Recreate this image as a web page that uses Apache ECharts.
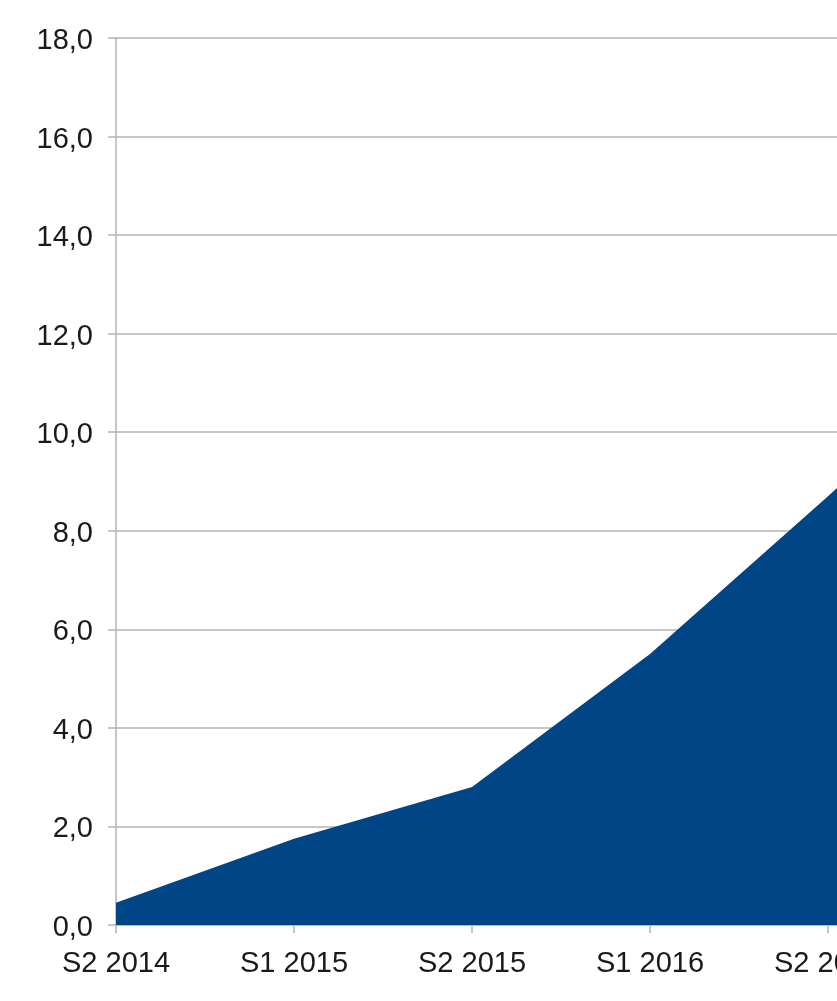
<!DOCTYPE html>
<html>
<head>
<meta charset="utf-8">
<script src="https://cdn.jsdelivr.net/npm/echarts@6/dist/echarts.min.js"></script>
<style>
html,body{margin:0;padding:0;background:#fff;overflow:hidden;width:837px;height:1001px;}
#chart{width:1100px;height:1001px;}
</style>
</head>
<body>
<div id="chart"></div>
<script>
var categories = ['S2 2014', 'S1 2015', 'S2 2015', 'S1 2016', 'S2 2016', 'S1 2017'];
var values = [0.45, 1.75, 2.8, 5.5, 8.7, 12.0];
var yTicks = [0, 2, 4, 6, 8, 10, 12, 14, 16, 18];

var chart = echarts.init(document.getElementById('chart'), null, {renderer: 'canvas'});
chart.setOption({
  animation: false,
  backgroundColor: '#ffffff',
  textStyle: {fontFamily: 'Liberation Sans'},
  grid: {left: 116, top: 38, bottom: 76, right: 94, containLabel: false},
  xAxis: {
    type: 'category',
    data: categories,
    boundaryGap: false,
    axisLine: {show: true, lineStyle: {color: '#b3b3b3', width: 1.5}},
    axisTick: {show: true, alignWithLabel: true, length: 8, lineStyle: {color: '#b3b3b3', width: 1.5}},
    axisLabel: {color: '#1a1a1a', fontSize: 29, fontFamily: 'Liberation Sans', margin: 24},
    splitLine: {show: false}
  },
  yAxis: {
    type: 'value',
    min: yTicks[0],
    max: yTicks[yTicks.length - 1],
    interval: 2,
    axisLine: {show: true, lineStyle: {color: '#b3b3b3', width: 1.5}},
    axisTick: {show: true, length: 8, lineStyle: {color: '#b3b3b3', width: 1.5}},
    axisLabel: {color: '#1a1a1a', fontSize: 29, fontFamily: 'Liberation Sans', margin: 23,
      formatter: function (v) { return '{a|' + v.toFixed(1).replace('.', ',') + '}'; },
      rich: {a: {color: '#1a1a1a', fontSize: 29, fontFamily: 'Liberation Sans', padding: [6, 0, 0, 0]}}},
    splitLine: {show: true, lineStyle: {color: '#b3b3b3', width: 1.5}}
  },
  series: [{
    type: 'line',
    data: values,
    symbol: 'none',
    lineStyle: {width: 0, color: '#004586'},
    itemStyle: {color: '#004586'},
    areaStyle: {color: '#004586', opacity: 1},
    z: 3
  }]
});
</script>
</body>
</html>
